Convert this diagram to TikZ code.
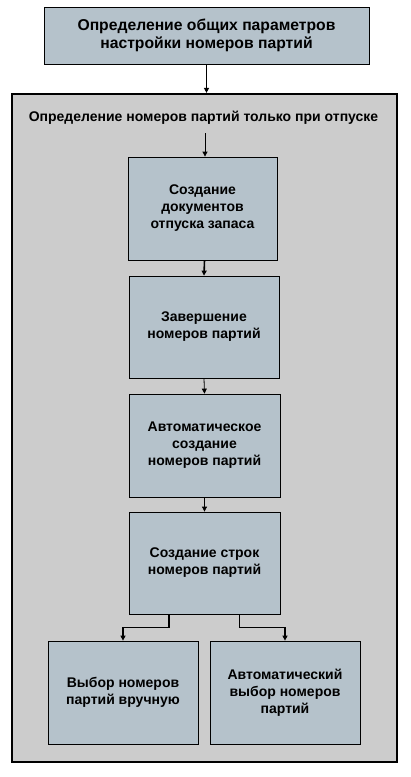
\documentclass[tikz,border=0pt]{standalone}
\usepackage{fontspec}
\setmainfont{Liberation Sans}
\usetikzlibrary{arrows.meta, positioning}
\definecolor{boxfill}{RGB}{181,194,203}
\definecolor{framefill}{RGB}{204,204,204}
\tikzset{%
	step box/.style={
		draw,
		fill=boxfill,
		line width=0.8pt,
		align=center,
		inner sep=0pt,
		font=\fontsize{14}{17}\selectfont\bfseries
	},
	flow/.style={
		-{Triangle[length=5pt,width=5pt]},
		line width=0.8pt
	},
}
\begin{document}
\begin{tikzpicture}[x=1pt,y=-1pt]
			\useasboundingbox[fill=white] (0,0) rectangle (410,777);
			
			% Draw the outer frame and its title
			\node[draw, fill=framefill, line width=2.2pt, minimum width=385pt, minimum height=668pt] (frame) at (204.5,428) {};
			\node[font=\fontsize{14}{17}\selectfont\bfseries] (title) at (203.5,118) {Определение номеров партий только при отпуске};
			
			% Draw the top box
			\node[step box, minimum width=325pt, minimum height=57pt, font=\fontsize{15.7}{18.5}\selectfont\bfseries] (setup) at (206.5,35.5) {Определение общих параметров\\настройки номеров партий};
			
			% Draw the steps
			\node[step box, minimum width=149pt, minimum height=103pt] (issue) at (202.5,208.5) {Создание\\документов\\отпуска запаса};
			\node[step box, minimum width=150pt, minimum height=102pt] (complete) at (204,327) {Завершение\\номеров партий};
			\node[step box, minimum width=151pt, minimum height=103pt] (autocreate) at (204.5,445.5) {Автоматическое\\создание\\номеров партий};
			\node[step box, minimum width=151pt, minimum height=102pt] (lines) at (204.5,563) {Создание строк\\номеров партий};
			\node[step box, minimum width=150pt, minimum height=103pt] (manual) at (123,692.5) {Выбор номеров\\партий вручную};
			\node[step box, minimum width=150pt, minimum height=103pt] (autoselect) at (285,692.5) {Автоматический\\выбор номеров\\партий};
			
			% Draw arrows between the steps
			\draw[flow, line width=1.6pt] (setup.south) -- (frame.north -| setup.south);
			\coordinate (start) at (205,133);
			\draw[flow] (start) -- (start |- issue.north);
			\draw[flow, line width=1.6pt] (issue.south -| 204.5,0) -- (complete.north);
			\draw[flow] (complete.south) -- (autocreate.north);
			\draw[flow] (autocreate.south) -- (lines.north);
			\draw[flow, line width=1.2pt] ([xshift=-35.5pt]lines.south) -- ++(0,13) -| (manual.north);
			\draw[flow, line width=1.2pt] ([xshift=35pt]lines.south) -- ++(0,13) -| (autoselect.north);
			
\end{tikzpicture}
\end{document}
